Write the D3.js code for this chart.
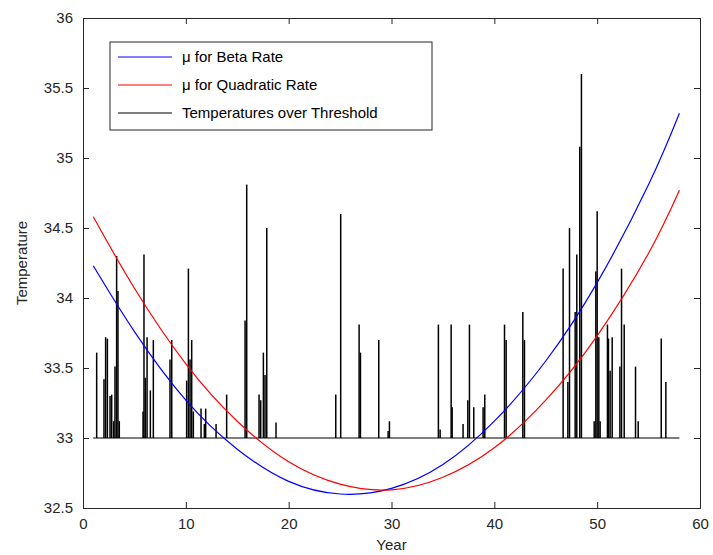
<!DOCTYPE html>
<html>
<head>
<meta charset="utf-8">
<script src="https://cdn.jsdelivr.net/npm/d3@7"></script>
<style>
  body { margin: 0; background: #fff; }
  text { font-family: "Liberation Sans", Arial, sans-serif; }
</style>
</head>
<body>
<div id="app"></div>
<script>
// curves
let curveYears = [1, 5, 10, 15, 20, 25, 30, 35, 40, 45, 50, 55, 58];
let betaMu = [34.23, 33.76, 33.27, 32.92, 32.69, 32.60, 32.64, 32.81, 33.12, 33.55, 34.11, 34.81, 35.32];
let quadMu = [34.58, 34.07, 33.53, 33.12, 32.83, 32.67, 32.63, 32.72, 32.93, 33.27, 33.73, 34.32, 34.77];

// temperatures over threshold (year, temp)
let spikeYears = [1.33, 2.04, 2.2, 2.37, 2.63, 2.79, 2.98, 3.11, 3.27, 3.4, 3.53,
    5.84, 5.93, 6.06, 6.23, 6.55, 6.84, 8.46, 8.63,
    10.08, 10.25, 10.41, 10.57, 10.73, 11.48, 11.8, 11.93, 12.94, 13.97,
    15.76, 15.92, 17.12, 17.28, 17.54, 17.7, 17.87, 18.77,
    24.58, 25.06, 26.85, 26.98, 28.76, 29.67, 29.8,
    34.56, 34.73, 35.8, 35.9, 36.96, 37.42, 37.58, 38.0, 38.91, 39.07,
    40.99, 41.15, 42.77, 42.93,
    46.69, 47.15, 47.31, 47.86, 48.02, 48.31, 48.47,
    49.71, 49.87, 50.0, 50.16, 50.29, 51.0, 51.1, 51.26, 51.46,
    52.21, 52.37, 52.63, 53.73, 53.99, 56.23, 56.68];
let spikeTemps = [33.61, 33.42, 33.72, 33.71, 33.30, 33.31, 33.12, 33.51, 34.30, 34.05, 33.12,
    33.19, 34.31, 33.43, 33.72, 33.34, 33.70, 33.56, 33.70,
    33.41, 34.21, 33.56, 33.70, 33.19, 33.21, 33.10, 33.21, 33.10, 33.31,
    33.84, 34.81, 33.31, 33.27, 33.61, 33.45, 34.50, 33.11,
    33.31, 34.60, 33.81, 33.61, 33.70, 33.05, 33.12,
    33.81, 33.06, 33.81, 33.22, 33.10, 33.27, 33.81, 33.22, 33.22, 33.31,
    33.81, 33.70, 33.90, 33.70,
    34.21, 33.40, 34.50, 33.90, 34.31, 35.08, 35.60,
    33.12, 34.19, 34.62, 33.72, 33.12, 33.81, 33.71, 33.48, 33.72,
    33.51, 34.21, 33.81, 33.51, 33.12, 33.71, 33.40];
let threshold = 33;
let baseStart = 1, baseEnd = 58;

let xTicks = [0, 10, 20, 30, 40, 50, 60];
let yTicks = [32.5, 33, 33.5, 34, 34.5, 35, 35.5, 36];

let legendLabels = ["\u03bc for Beta Rate", "\u03bc for Quadratic Rate", "Temperatures over Threshold"];
let legendColors = ["#0000ff", "#ff0000", "#000000"];

let W = 713, H = 555;
let margin = {left: 83, right: 13, top: 18, bottom: 47};
let width = W - margin.left - margin.right;
let height = H - margin.top - margin.bottom;

let svg = d3.select("#app").append("svg")
    .attr("width", W)
    .attr("height", H);

let g = svg.append("g")
    .attr("transform", "translate(" + margin.left + "," + margin.top + ")");

let x = d3.scaleLinear().domain([0, 60]).range([0, width]);
let y = d3.scaleLinear().domain([32.5, 36]).range([height, 0]);

// axes, MATLAB style: ticks inside, box all around
let tickLen = 6;
let axisColor = "#262626";
g.append("g")
    .attr("transform", "translate(0," + height + ")")
    .call(d3.axisBottom(x).tickValues(xTicks).tickSize(-tickLen).tickPadding(10).tickFormat(d3.format("d")));
g.append("g")
    .call(d3.axisTop(x).tickValues(xTicks).tickSize(-tickLen).tickFormat(""));
g.append("g")
    .call(d3.axisLeft(y).tickValues(yTicks).tickSize(-tickLen).tickPadding(10).tickFormat(d => d));
g.append("g")
    .attr("transform", "translate(" + width + ",0)")
    .call(d3.axisRight(y).tickValues(yTicks).tickSize(-tickLen).tickFormat(""));

g.selectAll(".domain").attr("stroke", axisColor).attr("stroke-width", 1);
g.selectAll(".tick line").attr("stroke", axisColor);
g.selectAll(".tick text").attr("fill", axisColor).style("font-size", "15px");

// threshold data: baseline plus spikes
let clip = g.append("g");
clip.append("line")
    .attr("x1", x(baseStart)).attr("x2", x(baseEnd))
    .attr("y1", y(threshold)).attr("y2", y(threshold))
    .attr("stroke", "#000").attr("stroke-width", 1.2);

clip.selectAll("line.spike")
    .data(spikeYears.map((d, i) => ({year: d, temp: spikeTemps[i]})))
    .enter()
    .append("line")
        .attr("class", "spike")
        .attr("x1", d => x(d.year)).attr("x2", d => x(d.year))
        .attr("y1", y(threshold)).attr("y2", d => y(d.temp))
        .attr("stroke", "#000")
        .attr("stroke-width", 1.5);

// mu curves
let line = d3.line()
    .x(d => x(d[0]))
    .y(d => y(d[1]))
    .curve(d3.curveNatural);

g.append("path")
    .datum(curveYears.map((d, i) => [d, betaMu[i]]))
    .attr("fill", "none")
    .attr("stroke", legendColors[0])
    .attr("stroke-width", 1.2)
    .attr("d", line);

g.append("path")
    .datum(curveYears.map((d, i) => [d, quadMu[i]]))
    .attr("fill", "none")
    .attr("stroke", legendColors[1])
    .attr("stroke-width", 1.2)
    .attr("d", line);

// legend
let legend = svg.append("g").attr("transform", "translate(110,42)");
legend.append("rect")
    .attr("width", 322).attr("height", 88)
    .attr("fill", "#fff").attr("stroke", axisColor);
legendLabels.forEach((lab, i) => {
    let ly = 15 + i * 28;
    legend.append("line")
        .attr("x1", 8).attr("x2", 62)
        .attr("y1", ly).attr("y2", ly)
        .attr("stroke", legendColors[i]).attr("stroke-width", 1.2);
    legend.append("text")
        .attr("x", 72).attr("y", ly + 5)
        .style("font-size", "15px")
        .attr("fill", "#000")
        .text(lab);
});

// axis titles
svg.append("text")
    .attr("x", margin.left + width / 2).attr("y", 550)
    .attr("text-anchor", "middle")
    .style("font-size", "15px")
    .attr("fill", axisColor)
    .text("Year");
svg.append("text")
    .attr("transform", "translate(27," + (margin.top + height / 2) + ") rotate(-90)")
    .attr("text-anchor", "middle")
    .style("font-size", "15px")
    .attr("fill", axisColor)
    .text("Temperature");
</script>
</body>
</html>
